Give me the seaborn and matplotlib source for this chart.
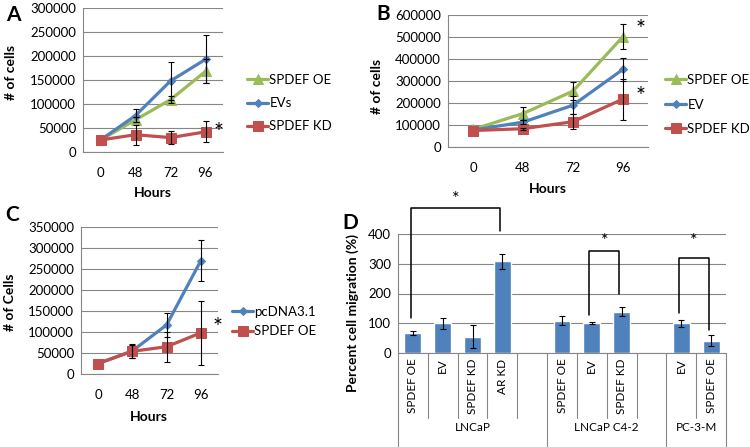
import numpy as np
import pandas as pd
import matplotlib
matplotlib.use('Agg')
import matplotlib.pyplot as plt
import seaborn as sns

W, H = 750, 447

hours = ['0', '48', '72', '96']

# panel A
a_oe = [25000, 67000, 109000, 168000]
a_oe_err = [0, 5000, 7000, 25000]
a_ev = [25000, 76000, 148000, 193000]
a_ev_err = [0, 14000, 40000, 50000]
a_kd = [25000, 36000, 30000, 42000]
a_kd_err = [0, 21000, 14000, 22000]

# panel B
b_oe = [80000, 152000, 254000, 502000]
b_oe_err = [0, 30000, 40000, 57000]
b_ev = [77000, 113000, 190000, 353000]
b_ev_err = [0, 8000, 40000, 51000]
b_kd = [75000, 83000, 115000, 218000]
b_kd_err = [0, 5000, 35000, 93000]

# panel C
c_pc = [25000, 55000, 117000, 270000]
c_pc_err = [0, 16000, 28000, 48000]
c_oe = [25000, 54000, 65000, 98000]
c_oe_err = [0, 16000, 36000, 76000]

# panel D
d_groups = ['LNCaP', 'LNCaP C4-2', 'PC-3-M']
d_labels = [['SPDEF OE', 'EV', 'SPDEF KD', 'AR KD'],
            ['SPDEF OE', 'EV', 'SPDEF KD'],
            ['EV', 'SPDEF OE']]
d_values = [[67, 100, 55, 308], [108, 100, 138], [100, 42]]
d_errors = [[8, 18, 38, 25], [15, 3, 15], [12, 20]]
# (group, bar i, bar j, left foot, right foot, top, star height)
d_sig = [(0, 0, 3, 118, 410, 488, 490),
         (1, 1, 2, 129, 200, 342, 350),
         (2, 0, 1, 135, 78, 319, 350)]

GREEN = '#9BBB59'
BLUE = '#4F81BD'
RED = '#C0504D'
GRID = '#868686'

sns.set_style('white')
plt.rcParams['font.family'] = ['Lato', 'DejaVu Sans']
plt.rcParams['font.size'] = 9.5
plt.rcParams['text.color'] = 'black'
plt.rcParams['xtick.labelcolor'] = 'black'
plt.rcParams['ytick.labelcolor'] = 'black'

fig = plt.figure(figsize=(W / 100, H / 100), dpi=100)


def box(l, t, r, b):
    return [l / W, 1 - b / H, (r - l) / W, (b - t) / H]


def ftext(x, y, s, **kw):
    fig.text(x / W, 1 - y / H, s, ha='center', va='center', **kw)


def style_axes(ax, ymax, ystep):
    ax.set_ylim(0, ymax)
    ax.set_yticks(np.arange(0, ymax + 1, ystep))
    ax.yaxis.set_major_formatter(plt.FuncFormatter(lambda v, p: f'{int(v)}'))
    ax.grid(axis='y', color=GRID, lw=0.8)
    ax.set_axisbelow(True)
    for s in ['top', 'right']:
        ax.spines[s].set_visible(False)
    for s in ['left', 'bottom']:
        ax.spines[s].set_color(GRID)
        ax.spines[s].set_linewidth(0.8)
    ax.tick_params(axis='y', length=3, color=GRID, pad=2, labelsize=9.5)
    ax.set_xlabel('')
    ax.set_ylabel('')


def line_panel(rect, series, ymax, ystep, leg_xy, leg_space, star_dx):
    ax = fig.add_axes(box(*rect))
    x = np.arange(len(hours)) + 0.5
    for name, vals, errs, color, marker, ms, star in series:
        sns.lineplot(x=x, y=vals, ax=ax, color=color, marker=marker,
                     markersize=ms, markeredgecolor=color, linewidth=2.3,
                     label=name, zorder=2, clip_on=False)
        errs = np.array(errs)
        m = errs > 0
        ax.errorbar(x[m], np.array(vals)[m], yerr=errs[m], fmt='none',
                    ecolor='black', elinewidth=0.8, capsize=2.2,
                    capthick=0.8, zorder=3)
        if star:
            ax.text(x[-1] + star_dx, vals[-1] + star, '*', fontsize=17,
                    ha='center', va='center')
    style_axes(ax, ymax, ystep)
    ax.set_xlim(0, len(hours))
    ax.set_xticks(x)
    ax.set_xticklabels(hours)
    ax.set_xticks(np.arange(len(hours) + 1), minor=True)
    ax.tick_params(axis='x', which='major', length=0, pad=11, labelsize=9.5)
    ax.tick_params(axis='x', which='minor', length=4, color=GRID)
    ax.legend(loc='upper left', bbox_to_anchor=(leg_xy[0] / W, 1 - leg_xy[1] / H),
              bbox_transform=fig.transFigure, frameon=False, borderpad=0,
              borderaxespad=0, handlelength=1.6, handletextpad=0.1,
              labelspacing=leg_space, fontsize=9.5)
    return ax


# A
line_panel((83, 8, 223, 152),
           [('SPDEF OE', a_oe, a_oe_err, GREEN, '^', 6.5, None),
            ('EVs', a_ev, a_ev_err, BLUE, 'D', 4.5, None),
            ('SPDEF KD', a_kd, a_kd_err, RED, 's', 6.5, -2000)],
           300000, 50000, (247, 74), 0.85, 0.37)
ftext(13, 15, 'A', fontsize=15, fontweight='bold')
ftext(11, 72, '# of cells', rotation=90, fontsize=10, fontweight='bold')
ftext(153, 193, 'Hours', fontsize=10, fontweight='bold')

# B
line_panel((448, 15, 648, 147),
           [('SPDEF OE', b_oe, b_oe_err, GREEN, '^', 6.5, 30000),
            ('EV', b_ev, b_ev_err, BLUE, 'D', 4.5, None),
            ('SPDEF KD', b_kd, b_kd_err, RED, 's', 6.5, 12000)],
           600000, 100000, (665, 74), 0.95, 0.35)
ftext(383, 14, 'B', fontsize=15, fontweight='bold')
ftext(377, 86, '# of cells', rotation=90, fontsize=10, fontweight='bold')
ftext(548, 189, 'Hours', fontsize=10, fontweight='bold')

# C
line_panel((81, 227, 218, 374),
           [('pcDNA3.1', c_pc, c_pc_err, BLUE, 'D', 4.5, None),
            ('SPDEF OE', c_oe, c_oe_err, RED, 's', 6.5, 12000)],
           350000, 50000, (232, 306), 0.55, 0.5)
ftext(12, 215, 'C', fontsize=15, fontweight='bold')
ftext(10, 302, '# of Cells', rotation=90, fontsize=10, fontweight='bold')
ftext(149, 417, 'Hours', fontsize=10, fontweight='bold')

# D
rows, order, ticklabels = [], [], []
for gi, (g, labs, vals, errs) in enumerate(zip(d_groups, d_labels, d_values, d_errors)):
    for lab, v, e in zip(labs, vals, errs):
        key = f'{g}:{lab}'
        rows.append(dict(slot=key, value=v, err=e))
        order.append(key)
        ticklabels.append(lab)
    if gi < len(d_groups) - 1:
        order.append(f'{g}:blank')
        ticklabels.append('')
df = pd.DataFrame(rows)

ax = fig.add_axes(box(398, 234, 726, 353))
sns.barplot(data=df, x='slot', y='value', order=order, color=BLUE,
            saturation=1, width=0.57, errorbar=None, ax=ax)
pos = [order.index(k) for k in df['slot']]
ax.errorbar(pos, df['value'], yerr=df['err'], fmt='none', ecolor='black',
            elinewidth=0.8, capsize=2.2, capthick=0.8, zorder=3)
style_axes(ax, 400, 100)
ax.set_xlim(-0.5, len(order) - 0.5)
ax.set_xticks(range(len(order)))
ax.set_xticklabels(ticklabels, rotation=90, fontsize=8.5)
ax.tick_params(axis='x', length=0, pad=4)

# category table under the axis
xt = ax.get_xaxis_transform()
start = 0
starts = []
for gi, labs in enumerate(d_labels):
    n = len(labs) + (1 if gi < len(d_labels) - 1 else 0)
    starts.append(start)
    for k in range(1, n):
        ax.plot([start + k - 0.5] * 2, [0, -0.55], transform=xt, clip_on=False,
                color=GRID, lw=0.8)
    ax.plot([start - 0.5] * 2, [0, -0.78], transform=xt, clip_on=False,
            color=GRID, lw=0.8)
    ax.text(start + n / 2 - 0.5, -0.63, d_groups[gi], transform=xt,
            ha='center', va='center', fontsize=8.5)
    start += n
ax.plot([start - 0.5] * 2, [0, -0.78], transform=xt, clip_on=False,
        color=GRID, lw=0.8)

for g, i, j, lb, rb, top, sy in d_sig:
    xl = starts[g] + i - 0.08
    xr = starts[g] + j - 0.08
    ax.plot([xl, xl, xr, xr], [lb, top, top, rb], color='black', lw=1.1,
            clip_on=False)
    ax.text((xl + xr) / 2, sy, '*', ha='center', va='bottom', fontsize=13)

ftext(350, 223, 'D', fontsize=15, fontweight='bold')
ftext(353, 313, 'Percent cell migration (%)', rotation=90, fontsize=10,
      fontweight='bold')

fig.savefig('out.png', dpi=100)
